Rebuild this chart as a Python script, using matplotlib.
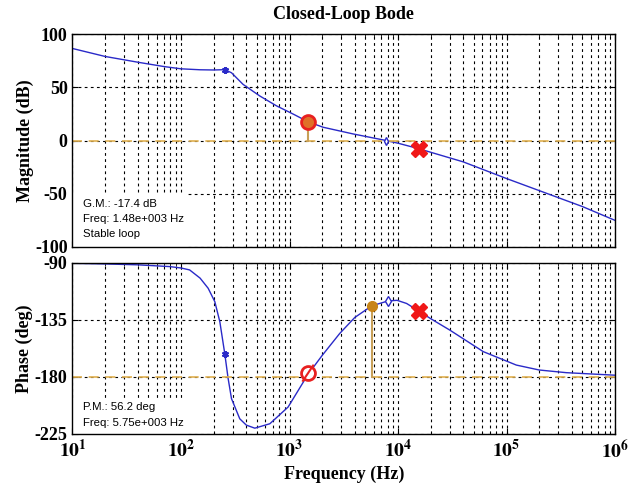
import numpy as np
import matplotlib
matplotlib.use('Agg')
from matplotlib import pyplot as plt
from matplotlib.patches import Rectangle
from matplotlib.ticker import LogLocator, FixedLocator, NullFormatter

plt.rcParams['font.family'] = ['Liberation Serif', 'DejaVu Serif']
plt.rcParams['mathtext.fontset'] = 'stix'

# magnitude curve (Hz, dB)
mag_f = [10, 20, 40, 70, 100, 150, 200, 253, 292, 373, 532, 759, 1080, 1480,
         2040, 3860, 7800, 10000, 15600, 20000, 39800, 100000, 234000, 500000, 1000000]
mag_db = [86.5, 79, 73.6, 69.5, 67.4, 66.5, 66.3, 66.6, 63.7, 52.8, 41.9, 32.6, 24.9, 17.7,
          12.5, 6.2, 0, -2.5, -7.7, -11, -20, -35.7, -49.6, -62, -75]

# phase curve (Hz, deg)
ph_f = [10, 20, 40, 79, 100, 120, 150, 178, 205, 228, 253, 272, 292, 348, 400, 479,
        659, 971, 1480, 2000, 2900, 4000, 5750, 8100, 9800, 12000, 15600, 20000, 30000,
        61000, 123000, 200000, 355000, 1000000]
ph_deg = [-90.3, -90.8, -91.5, -92.9, -94, -95.5, -102, -110, -120.6, -136.4, -161.5,
          -181.3, -197.1, -213, -218, -220.4, -216.9, -203.7, -178, -163, -145.7, -133,
          -123.8, -120, -119.5, -122, -128, -134, -143, -160, -170.6, -174.5, -176.6, -178.6]

# margin readouts
gm_f, gm_db = 1480, 17.7
pm_f, pm_deg = 5750, -123.8
star_f, star_db, star_deg = 253, 66.6, -161.5
diam_f_mag, diam_f_ph = 7800, 8100
x_f, x_db, x_deg = 15600, -7.7, -128
circ_ph_f, circ_ph_deg = 1480, -177

gm_text = ['G.M.: -17.4 dB', 'Freq: 1.48e+003 Hz', 'Stable loop']
pm_text = ['P.M.: 56.2 deg', 'Freq: 5.75e+003 Hz']

blue = '#2a2ac8'
gold = '#e0b050'
stem = '#c8a058'

fig = plt.figure(figsize=(6.28, 4.86), dpi=100)
ax1 = fig.add_axes([0.1154, 0.4918, 0.864, 0.438])
ax2 = fig.add_axes([0.1154, 0.107, 0.864, 0.352])


def style(ax):
    ax.set_xscale('log')
    ax.set_xlim(10, 1e6)
    ax.xaxis.set_major_locator(LogLocator(base=10, numticks=10))
    ax.xaxis.set_minor_locator(LogLocator(base=10, subs=np.arange(2, 10), numticks=20))
    ax.xaxis.set_minor_formatter(NullFormatter())
    ax.grid(True, which='both', axis='x', color='k', linestyle=(0, (2.5, 3)), linewidth=0.8)
    ax.grid(True, which='major', axis='y', color='k', linestyle=(0, (2.5, 3)), linewidth=0.8)
    ax.tick_params(which='both', direction='in', top=True, right=True, labelsize=13)
    ax.tick_params(which='major', length=4)
    ax.tick_params(which='minor', length=2)
    for s in ax.spines.values():
        s.set_linewidth(1.0)


# magnitude
ax1.plot(mag_f, mag_db, color=blue, lw=1)
ax1.axhline(0, color=gold, ls=(0, (6, 4)), lw=1.2, zorder=2)
ax1.plot([gm_f, gm_f], [0, gm_db], color=stem, lw=1.5)
ax1.plot(gm_f, gm_db, 'o', ms=10, mfc='#e07028', mec='#e82020', mew=2)
ax1.plot(star_f, star_db, marker=(6, 2, 0), color=blue, ms=5, mew=1.5)
ax1.plot(diam_f_mag, 0, 'd', ms=4, mfc='white', mec=blue)
ax1.plot(x_f, x_db, 'X', ms=11, color='#f01818', mec='#f01818')
ax1.set_ylim(-100, 100)
ax1.yaxis.set_major_locator(FixedLocator([-100, -50, 0, 50, 100]))
style(ax1)
ax1.set_yticklabels(['-100', '-50', '0', '50', '100'], fontweight='bold', fontsize=13)
ax1.xaxis.set_major_formatter(NullFormatter())
ax1.set_ylabel('Magnitude (dB)', fontsize=13, fontweight='bold', labelpad=1)
ax1.set_title('Closed-Loop Bode', fontsize=13, fontweight='bold', pad=11)
ax1.add_patch(Rectangle((0, 0), 0.213, 0.254, transform=ax1.transAxes,
                        facecolor='white', edgecolor='none', zorder=1.8))
for i, t in enumerate(gm_text):
    ax1.text(0.02, 0.2 - i * 0.07, t, transform=ax1.transAxes, fontsize=8.2,
             family='Liberation Sans', va='center', zorder=3)

# phase
ax2.plot(ph_f, ph_deg, color=blue, lw=1)
ax2.axhline(-180, color=gold, ls=(0, (6, 4)), lw=1.2, zorder=2)
ax2.plot([pm_f, pm_f], [-180, pm_deg], color=stem, lw=1.5)
ax2.plot(pm_f, pm_deg, 'o', ms=7, color='#c88418')
ax2.plot(circ_ph_f, circ_ph_deg, 'o', ms=10, mfc='white', mec='#e82020', mew=2)
ax2.plot([1330, 1650], [-183, -171], color='#e82020', lw=1.5)
ax2.plot(star_f, star_deg, marker=(6, 2, 0), color=blue, ms=5, mew=1.5)
ax2.plot(diam_f_ph, -120, 'd', ms=5, mfc='white', mec=blue)
ax2.plot(x_f, x_deg, 'X', ms=11, color='#f01818', mec='#f01818')
ax2.set_ylim(-225, -90)
ax2.yaxis.set_major_locator(FixedLocator([-225, -180, -135, -90]))
style(ax2)
ax2.set_yticklabels(['-225', '-180', '-135', '-90'], fontweight='bold', fontsize=13)
ax2.set_xticks([10 ** k for k in range(1, 7)])
ax2.set_xticklabels([r'$\mathbf{10^{%d}}$' % k for k in range(1, 7)], fontsize=14)
ax2.set_ylabel('Phase (deg)', fontsize=13, fontweight='bold', labelpad=1)
ax2.set_xlabel('Frequency (Hz)', fontsize=13, fontweight='bold', labelpad=2)
ax2.add_patch(Rectangle((0, 0), 0.209, 0.21, transform=ax2.transAxes,
                        facecolor='white', edgecolor='none', zorder=1.8))
for i, t in enumerate(pm_text):
    ax2.text(0.02, 0.16 - i * 0.093, t, transform=ax2.transAxes, fontsize=8.2,
             family='Liberation Sans', va='center', zorder=3)

fig.savefig('out.png', dpi=100)
